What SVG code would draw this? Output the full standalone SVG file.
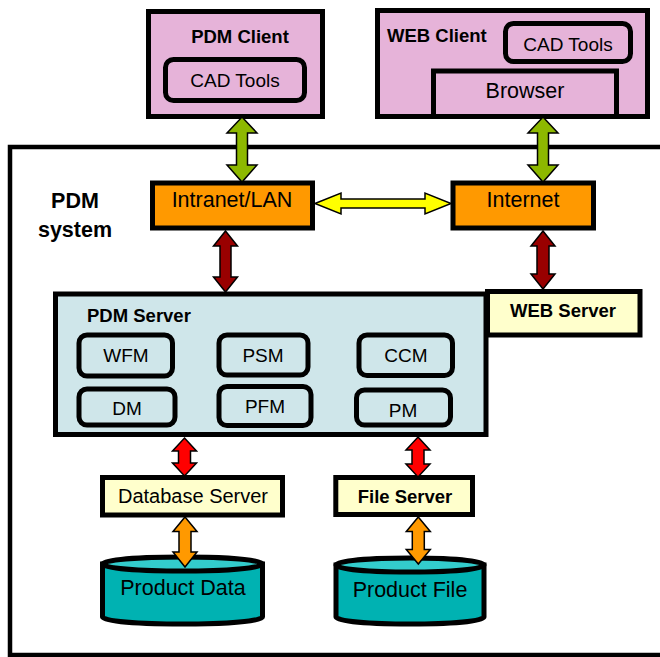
<svg xmlns="http://www.w3.org/2000/svg" width="660" height="657" viewBox="0 0 660 657">
<style>
text{font-family:"Liberation Sans",Arial,sans-serif;fill:#000}
.b{font-weight:bold}
.box{stroke:#000;stroke-width:5}
.pink{fill:#E6B3D9}
.orange{fill:#FF9900}
.cream{fill:#FFFFCC}
.blue{fill:#CFE6EA}
.arr{stroke:#000;stroke-width:1.5;stroke-linejoin:miter}
</style>
<rect id="pdm-system" x="10" y="147" width="700" height="508" fill="#fff" stroke="#000" stroke-width="4.5"/>
<text class="b" x="75" y="208" font-size="21.5" text-anchor="middle">PDM</text>
<text class="b" x="75" y="237" font-size="21.5" text-anchor="middle">system</text>

<g id="pdm-client">
<rect class="box pink" x="148.5" y="11.5" width="174" height="105"/>
<text class="b" x="240" y="43" font-size="18.5" text-anchor="middle">PDM Client</text>
<rect class="box pink" x="165.5" y="59.5" width="139" height="41" rx="8"/>
<text x="235" y="87" font-size="19" text-anchor="middle">CAD Tools</text>
</g>

<g id="web-client">
<rect class="box pink" x="377.5" y="10.5" width="270" height="106"/>
<text class="b" x="387" y="42" font-size="18.5">WEB Client</text>
<rect class="box pink" x="505.5" y="23.5" width="125" height="38" rx="8"/>
<text x="568" y="51" font-size="19" text-anchor="middle">CAD Tools</text>
<rect class="box pink" x="433.5" y="71" width="183" height="45.5"/>
<text x="525" y="98" font-size="21.5" text-anchor="middle">Browser</text>
</g>

<g id="intranet">
<rect class="box orange" x="152.5" y="183" width="160" height="45"/>
<text x="232" y="207" font-size="21.5" text-anchor="middle">Intranet/LAN</text>
</g>

<g id="internet">
<rect class="box orange" x="453" y="183" width="140.5" height="45"/>
<text x="523" y="207" font-size="21.5" text-anchor="middle">Internet</text>
</g>

<g id="pdm-server">
<rect class="box blue" x="55.5" y="294" width="430.5" height="140.5"/>
<text class="b" x="87" y="322" font-size="18.5">PDM Server</text>
<rect class="box blue" x="79" y="335" width="93.5" height="41" rx="8"/>
<text x="126" y="362" font-size="19" text-anchor="middle">WFM</text>
<rect class="box blue" x="219" y="335" width="89" height="40" rx="8"/>
<text x="263" y="362" font-size="19" text-anchor="middle">PSM</text>
<rect class="box blue" x="359" y="335" width="93.5" height="40.5" rx="8"/>
<text x="406" y="362" font-size="19" text-anchor="middle">CCM</text>
<rect class="box blue" x="79" y="389" width="96" height="36" rx="8"/>
<text x="127" y="415" font-size="19" text-anchor="middle">DM</text>
<rect class="box blue" x="219" y="386.5" width="92" height="39" rx="8"/>
<text x="265" y="413" font-size="19" text-anchor="middle">PFM</text>
<rect class="box blue" x="356.5" y="390" width="94" height="35" rx="8"/>
<text x="403" y="417" font-size="19" text-anchor="middle">PM</text>
</g>

<g id="web-server">
<rect class="box cream" x="487.5" y="291.5" width="152.5" height="43.5"/>
<text class="b" x="563" y="317" font-size="18.5" text-anchor="middle">WEB Server</text>
</g>

<g id="database-server">
<rect class="box cream" x="102.5" y="477.5" width="180" height="37.5"/>
<text x="193" y="503" font-size="20" text-anchor="middle">Database Server</text>
</g>

<g id="file-server">
<rect class="box cream" x="335.8" y="477.5" width="136.7" height="37"/>
<text class="b" x="405" y="503" font-size="18.5" text-anchor="middle">File Server</text>
</g>

<g id="product-data">
<path d="M102.5,564 L102.5,617 A80,7 0 0 0 262.5,617 L262.5,564 Z" fill="#00B2B2" stroke="#000" stroke-width="5"/>
<ellipse cx="182.5" cy="564" rx="80" ry="7" fill="#33CCCC" stroke="#000" stroke-width="5"/>
<text x="183" y="595" font-size="21.5" text-anchor="middle">Product Data</text>
</g>

<g id="product-file">
<path d="M336,565 L336,617 A74,7 0 0 0 484,617 L484,565 Z" fill="#00B2B2" stroke="#000" stroke-width="5"/>
<ellipse cx="410" cy="565" rx="74" ry="7" fill="#33CCCC" stroke="#000" stroke-width="5"/>
<text x="410" y="597" font-size="21.5" text-anchor="middle">Product File</text>
</g>

<g id="connectors">
<polygon class="arr" fill="#8DB800" points="242,117 257,133 247.5,133 247.5,165 257,165 242,182 227,165 236.5,165 236.5,133 227,133"/>
<polygon class="arr" fill="#8DB800" points="543,117 558,133 548.5,133 548.5,165 558,165 543,182 528,165 537.5,165 537.5,133 528,133"/>
<polygon class="arr" fill="#FFFF00" points="315,203.5 341,193 341,199 425,199 425,193 451,203.5 425,214 425,208 341,208 341,214"/>
<polygon class="arr" fill="#990000" points="225.5,231 237.5,246 231,246 231,277 237.5,277 225.5,292 213.5,277 220,277 220,246 213.5,246"/>
<polygon class="arr" fill="#990000" points="543,231 555,246 549,246 549,274 555,274 543,289 531,274 537,274 537,246 531,246"/>
<polygon class="arr" fill="#FF0000" points="184.5,438 196.5,451 190.5,451 190.5,463 196.5,463 184.5,476 172.5,463 178.5,463 178.5,451 172.5,451"/>
<polygon class="arr" fill="#FF0000" points="418,437 430,450 424,450 424,464 430,464 418,477 406,464 412,464 412,450 406,450"/>
<polygon class="arr" fill="#FF9900" points="185,517 197,531.5 191,531.5 191,552 197,552 185,567 173,552 179,552 179,531.5 173,531.5"/>
<polygon class="arr" fill="#FF9900" points="418.3,517 430.3,531.5 424.3,531.5 424.3,549.5 430.3,549.5 418.3,564 406.3,549.5 412.3,549.5 412.3,531.5 406.3,531.5"/>
</g>
</svg>
